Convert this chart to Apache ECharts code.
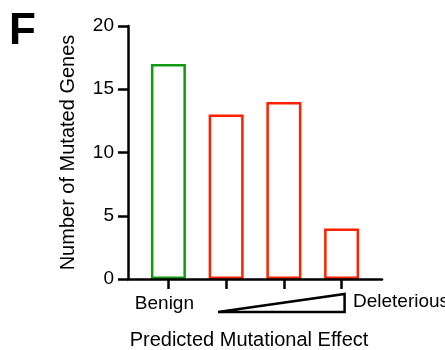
<!DOCTYPE html>
<html>
<head>
<meta charset="utf-8">
<script src="https://cdn.jsdelivr.net/npm/echarts@6/dist/echarts.min.js"></script>
<style>
html,body{margin:0;padding:0;background:#fff;}
#c{width:445px;height:350px;}
</style>
</head>
<body>
<div id="c"></div>
<script>
var categories = ['Benign', 'Mild', 'Moderate', 'Deleterious'];
var counts = [17, 13, 14, 4];
var barColors = ['#119a11', '#ff2200', '#ff2200', '#ff2200'];
var yTicks = [0, 5, 10, 15, 20];
var yTitle = 'Number of Mutated Genes';
var xTitle = 'Predicted Mutational Effect';
var panelLabel = 'F';
var lowLabel = 'Benign';
var highLabel = 'Deleterious';

var FONT = "'Liberation Sans', Arial, Helvetica, sans-serif";
var chart = echarts.init(document.getElementById('c'), null, {renderer: 'canvas'});

var barData = counts.map(function (v, i) {
  return {
    value: [i, v],
    itemStyle: {color: '#ffffff', borderColor: barColors[i], borderWidth: 2.5}
  };
});

chart.setOption({
  animation: false,
  backgroundColor: '#ffffff',
  grid: {left: 128, right: 63, top: 26, bottom: 71, containLabel: false, outerBoundsMode: 'none'},
  xAxis: {
    type: 'value',
    z: 10,
    min: -0.7,
    max: categories.length - 0.3,
    splitLine: {show: false},
    axisLine: {show: true, onZero: false, lineStyle: {color: '#000', width: 2.5}},
    axisTick: {show: true, customValues: categories.map(function (c, i) { return i; }), length: 10, lineStyle: {color: '#000', width: 2.5}},
    axisLabel: {show: false},
    name: xTitle,
    nameLocation: 'middle',
    nameGap: 51,
    nameTextStyle: {fontFamily: FONT, fontSize: 20, color: '#000', padding: [0, 12, 0, 0]}
  },
  yAxis: {
    type: 'value',
    z: 10,
    min: yTicks[0],
    max: yTicks[yTicks.length - 1],
    interval: yTicks[1] - yTicks[0],
    splitLine: {show: false},
    axisLine: {show: true, onZero: false, lineStyle: {color: '#000', width: 2.5}},
    axisTick: {show: true, length: 10, lineStyle: {color: '#000', width: 2.5}},
    axisLabel: {fontFamily: FONT, fontSize: 19, color: '#000', margin: 14},
    name: yTitle,
    nameLocation: 'middle',
    nameGap: 50,
    nameTextStyle: {fontFamily: FONT, fontSize: 20, color: '#000'}
  },
  series: [{
    type: 'bar',
    barWidth: 35,
    data: barData,
    z: 1
  }]
});

function px(x, y) { return chart.convertToPixel({gridIndex: 0}, [x, y]); }
var p0 = px(0, 0);
var p3 = px(categories.length - 1, 0);
var axisY = p0[1];
var wedgeLeft = px(0.86, 0)[0];
var wedgeRight = p3[0] + 3;

chart.setOption({
  graphic: [
    {type: 'text', style: {x: 9, y: 32, text: panelLabel, font: 'bold 44px ' + FONT, fill: '#000', align: 'left', verticalAlign: 'middle'}},
    {type: 'text', style: {x: p0[0] - 4, y: axisY + 25, text: lowLabel, font: '19px ' + FONT, fill: '#000', align: 'center', verticalAlign: 'middle'}},
    {type: 'text', style: {x: 353, y: axisY + 22.5, text: highLabel, font: '19px ' + FONT, fill: '#000', align: 'left', verticalAlign: 'middle'}},
    {type: 'polygon', shape: {points: [[wedgeLeft, axisY + 33], [wedgeRight, axisY + 33], [wedgeRight, axisY + 15]]},
     style: {fill: 'none', stroke: '#000', lineWidth: 2.5, lineJoin: 'miter'}}
  ]
});
</script>
</body>
</html>
